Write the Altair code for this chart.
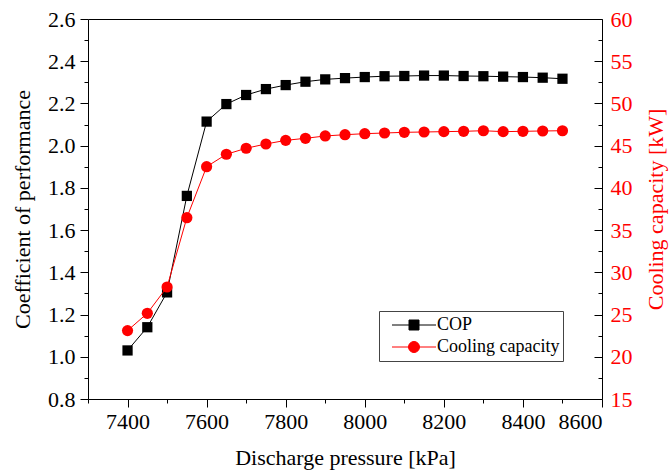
import altair as alt
import pandas as pd

# Discharge pressure [kPa]
pressure = [7400, 7450, 7500, 7550, 7600, 7650, 7700, 7750, 7800, 7850, 7900, 7950,
            8000, 8050, 8100, 8150, 8200, 8250, 8300, 8350, 8400, 8450, 8500]
# Coefficient of performance
cop = [1.03, 1.14, 1.305, 1.762, 2.114, 2.197, 2.24, 2.268, 2.287, 2.303, 2.314, 2.32,
       2.325, 2.329, 2.33, 2.332, 2.332, 2.33, 2.329, 2.327, 2.325, 2.322, 2.317]
# Cooling capacity [kW]
cooling = [23.1, 25.15, 28.26, 36.47, 42.51, 43.98, 44.69, 45.2, 45.63, 45.87, 46.15, 46.3,
           46.42, 46.5, 46.58, 46.62, 46.66, 46.7, 46.77, 46.66, 46.7, 46.74, 46.77]

series = ["COP", "Cooling capacity"]

x_major = [7400, 7600, 7800, 8000, 8200, 8400, 8600]
x_minor = [7300, 7500, 7700, 7900, 8100, 8300, 8500]
cop_major = [0.8, 1.0, 1.2, 1.4, 1.6, 1.8, 2.0, 2.2, 2.4, 2.6]
cop_minor = [0.9, 1.1, 1.3, 1.5, 1.7, 1.9, 2.1, 2.3, 2.5]
cool_major = [15, 20, 25, 30, 35, 40, 45, 50, 55, 60]
cool_minor = [17.5, 22.5, 27.5, 32.5, 37.5, 42.5, 47.5, 52.5, 57.5]

df = pd.DataFrame({"P": pressure, "COP": cop, "Cooling": cooling})

FONT = "Liberation Serif"
RED = "#ff0000"
FS = 22

x_scale = alt.Scale(domain=[7300, 8600], nice=False, zero=False)
cop_scale = alt.Scale(domain=[0.8, 2.6], nice=False, zero=False)
cool_scale = alt.Scale(domain=[15, 60], nice=False, zero=False)

base = alt.Chart(df)

cop_layer = base.mark_line(
    color="black", strokeWidth=1,
    point=alt.OverlayMarkDef(shape="square", size=105, filled=True, color="black", opacity=1),
).encode(
    x=alt.X("P:Q", scale=x_scale,
            axis=alt.Axis(orient="bottom", values=x_major, format="d", tickSize=8,
                          labelPadding=4, labelFontSize=FS, titleFontSize=FS,
                          titlePadding=15, title="Discharge pressure [kPa]")),
    y=alt.Y("COP:Q", scale=cop_scale,
            axis=alt.Axis(orient="left", values=cop_major, format=".1f", tickSize=8,
                          labelPadding=5, labelFontSize=FS, titleFontSize=FS,
                          titlePadding=13, title="Coefficient of performance")),
)

cool_layer = base.mark_line(
    color=RED, strokeWidth=1,
    point=alt.OverlayMarkDef(shape="circle", size=125, filled=True, color=RED, opacity=1),
).encode(
    x=alt.X("P:Q", scale=x_scale, axis=None),
    y=alt.Y("Cooling:Q", scale=cool_scale,
            axis=alt.Axis(orient="right", values=cool_major, format="d", tickSize=8,
                          offset=-8, labelPadding=8, labelFontSize=FS, labelColor=RED,
                          titleFontSize=FS, titleColor=RED, titleAngle=270,
                          titleBaseline="top", titlePadding=13,
                          title="Cooling capacity [kW]")),
)

# Minor ticks on the bottom and left axes
minor_left = base.mark_point(opacity=0).encode(
    x=alt.X("P:Q", scale=x_scale,
            axis=alt.Axis(orient="bottom", values=x_minor, tickSize=4, labels=False, title=None)),
    y=alt.Y("COP:Q", scale=cop_scale,
            axis=alt.Axis(orient="left", values=cop_minor, tickSize=4, labels=False, title=None)),
)

# Minor ticks on the right axis (pointing inward)
minor_right = base.mark_point(opacity=0).encode(
    x=alt.X("P:Q", scale=x_scale, axis=None),
    y=alt.Y("Cooling:Q", scale=cool_scale,
            axis=alt.Axis(orient="right", values=cool_minor, tickSize=4, offset=-4,
                          labels=False, title=None)),
)

# Legend symbols: a short line with the series marker on it
sym_cop = "M-4.4,0L4.4,0M-1,-1L1,-1L1,1L-1,1Z"
k = 0.6075
sym_cool = (
    "M-4.4,0L4.4,0"
    f"M-1.1,0C-1.1,-{k} -{k},-1.1 0,-1.1C{k},-1.1 1.1,-{k} 1.1,0"
    f"C1.1,{k} {k},1.1 0,1.1C-{k},1.1 -1.1,{k} -1.1,0Z"
)

legend = alt.Legend(
    title=None, orient="none", legendX=291, legendY=292,
    labelFont=FONT, labelFontSize=18, labelColor="black",
    symbolSize=100, symbolStrokeWidth=1, symbolOffset=23, labelOffset=14,
    clipHeight=22, rowPadding=-22, padding=3, strokeColor="#444444", fillColor="white",
    cornerRadius=0,
)

legend_layer = alt.Chart(pd.DataFrame({"series": series})).transform_filter(
    "false"
).mark_point(filled=True, size=100, opacity=1, strokeWidth=1).encode(
    fill=alt.Fill("series:N", scale=alt.Scale(domain=series, range=["black", RED]), legend=legend),
    stroke=alt.Stroke("series:N", scale=alt.Scale(domain=series, range=["black", RED]), legend=legend),
    shape=alt.Shape("series:N", scale=alt.Scale(domain=series, range=[sym_cop, sym_cool]), legend=legend),
)

chart = alt.layer(
    minor_left, minor_right, cop_layer, cool_layer, legend_layer
).resolve_scale(
    y="independent"
).resolve_axis(
    x="independent", y="independent"
).properties(
    width=514, height=380,
    autosize=alt.AutoSizeParams(type="none"),
    padding={"left": 88, "top": 19, "right": 68, "bottom": 72},
    background="white",
).configure_view(
    stroke="black", strokeWidth=1
).configure_axis(
    grid=False, domain=False, tickColor="black", tickWidth=1,
    labelFont=FONT, titleFont=FONT, titleFontWeight="normal",
    labelColor="black", titleColor="black",
)

chart.save("out.html", embed_options={"renderer": "svg", "actions": False})
